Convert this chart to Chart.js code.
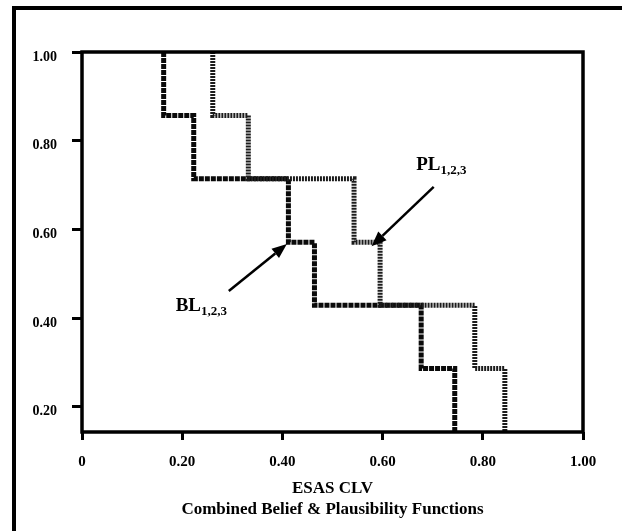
<!DOCTYPE html>
<html>
<head>
<meta charset="utf-8">
<script src="https://cdn.jsdelivr.net/npm/chart.js@4.4.0/dist/chart.umd.min.js"></script>
<style>
  html, body { margin: 0; padding: 0; background: #fff; }
  #wrap { width: 622px; height: 531px; position: relative; }
</style>
</head>
<body>
<div id="wrap"><canvas id="chart" width="622" height="531"></canvas></div>
<script>
// step levels (belief / plausibility values)
const levels = [1.00, 0.857, 0.714, 0.571, 0.429, 0.286, 0.143];
// x positions where each curve drops to the next level
const blSteps = [0.163, 0.223, 0.412, 0.464, 0.677, 0.744];
const plSteps = [0.261, 0.332, 0.543, 0.595, 0.784, 0.844];

const xTicks = [0, 0.2, 0.4, 0.6, 0.8, 1.0];
const yTicks = [0.2, 0.4, 0.6, 0.8, 1.0];

// label + arrow positions, in data units
const labels = [
    { main: 'PL', sub: '1,2,3', x: 0.667, y: 0.734, from: [0.702, 0.696], to: [0.578, 0.562] },
    { main: 'BL', sub: '1,2,3', x: 0.187, y: 0.416, from: [0.293, 0.461], to: [0.409, 0.567] }
];

const serif = '"Liberation Serif", "Times New Roman", serif';

function stepPoints(steps) {
    return levels.map((y, i) => ({ x: steps[Math.min(i, steps.length - 1)], y: y }));
}

const decor = {
    id: 'decor',
    beforeDraw(chart) {
        const ctx = chart.ctx;
        ctx.save();
        ctx.strokeStyle = '#000';
        ctx.lineWidth = 4;
        ctx.beginPath();
        ctx.moveTo(14, 531);
        ctx.lineTo(14, 8);
        ctx.lineTo(622, 8);
        ctx.stroke();
        ctx.restore();
    },
    afterDraw(chart) {
        const ctx = chart.ctx;
        const a = chart.chartArea;
        const xs = chart.scales.x, ys = chart.scales.y;
        ctx.save();
        ctx.strokeStyle = '#000';
        ctx.lineWidth = 3.5;
        ctx.strokeRect(a.left, a.top, a.right - a.left, a.bottom - a.top);

        ctx.fillStyle = '#000';
        labels.forEach(l => {
            const px = xs.getPixelForValue(l.x), py = ys.getPixelForValue(l.y);
            ctx.font = 'bold 19px ' + serif;
            ctx.textBaseline = 'alphabetic';
            ctx.textAlign = 'left';
            ctx.fillText(l.main, px, py);
            const w = ctx.measureText(l.main).width;
            ctx.font = 'bold 13px ' + serif;
            ctx.fillText(l.sub, px + w, py + 4);

            const x1 = xs.getPixelForValue(l.from[0]), y1 = ys.getPixelForValue(l.from[1]);
            const x2 = xs.getPixelForValue(l.to[0]), y2 = ys.getPixelForValue(l.to[1]);
            const ang = Math.atan2(y2 - y1, x2 - x1);
            const hl = 15, hw = 6;
            const bx = x2 - hl * Math.cos(ang), by = y2 - hl * Math.sin(ang);
            ctx.lineWidth = 2.5;
            ctx.beginPath();
            ctx.moveTo(x1, y1);
            ctx.lineTo(bx, by);
            ctx.stroke();
            ctx.beginPath();
            ctx.moveTo(x2, y2);
            ctx.lineTo(bx + hw * Math.sin(ang), by - hw * Math.cos(ang));
            ctx.lineTo(bx - hw * Math.sin(ang), by + hw * Math.cos(ang));
            ctx.closePath();
            ctx.fill();
        });
        ctx.restore();
    }
};

new Chart(document.getElementById('chart').getContext('2d'), {
    type: 'scatter',
    data: {
        datasets: [{
            label: 'PL',
            data: stepPoints(plSteps),
            showLine: true,
            stepped: 'after',
            borderColor: '#1c1c1c',
            borderWidth: 5,
            borderDash: [2, 1],
            pointRadius: 0
        }, {
            label: 'BL',
            data: stepPoints(blSteps),
            showLine: true,
            stepped: 'after',
            borderColor: '#0a0a0a',
            borderWidth: 5,
            borderDash: [5, 1],
            pointRadius: 0
        }]
    },
    options: {
        responsive: false,
        animation: false,
        layout: { padding: { left: 0, top: 52, right: 39, bottom: 0 } },
        plugins: { legend: { display: false }, tooltip: { enabled: false } },
        scales: {
            x: {
                type: 'linear',
                min: 0, max: 1,
                afterFit: s => { s.height = 99; },
                afterBuildTicks: s => { s.ticks = xTicks.map(v => ({ value: v })); },
                border: { display: false },
                grid: { drawOnChartArea: false, drawTicks: true, tickLength: 8, lineWidth: 3, color: '#000' },
                ticks: {
                    padding: 13,
                    color: '#000',
                    font: { family: serif, size: 15, weight: 'bold', lineHeight: 1.2 },
                    callback: v => v === 0 ? '0' : v.toFixed(2),
                    maxRotation: 0
                },
                title: {
                    display: true,
                    text: ['ESAS CLV', 'Combined Belief & Plausibility Functions'],
                    color: '#000',
                    font: { family: serif, size: 17, weight: 'bold', lineHeight: 1.25 },
                    padding: { top: 0, bottom: 11 }
                }
            },
            y: {
                type: 'linear',
                min: 0.143, max: 1,
                afterFit: s => { s.width = 82; },
                afterBuildTicks: s => { s.ticks = yTicks.map(v => ({ value: v })); },
                border: { display: false },
                grid: { drawOnChartArea: false, drawTicks: true, tickLength: 10, lineWidth: 3, color: '#000' },
                ticks: {
                    padding: 15,
                    labelOffset: 5,
                    color: '#000',
                    font: { family: serif, size: 14, weight: 'bold' },
                    callback: v => v.toFixed(2)
                }
            }
        }
    },
    plugins: [decor]
});
</script>
</body>
</html>
